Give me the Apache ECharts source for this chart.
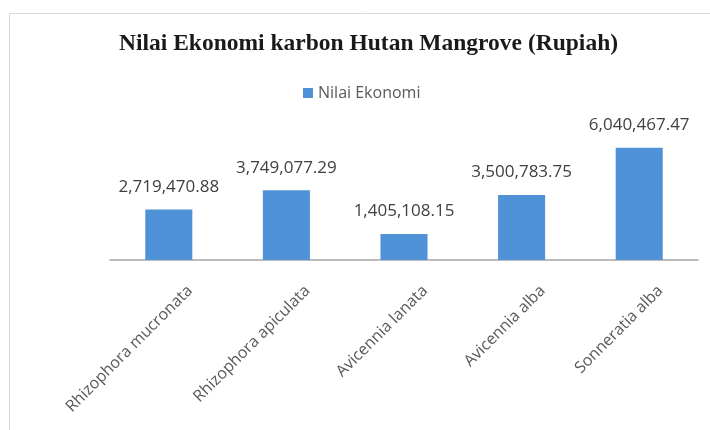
<!DOCTYPE html>
<html><head><meta charset="utf-8">
<script src="https://cdn.jsdelivr.net/npm/echarts@6/dist/echarts.min.js"></script>
<style>html,body{margin:0;padding:0;background:#fff}#c{width:710px;height:430px}</style>
</head><body><div id="c"></div>
<script>
const categories = ["Rhizophora mucronata","Rhizophora apiculata","Avicennia lanata","Avicennia alba","Sonneratia alba"];
const values = [2719470.88, 3749077.29, 1405108.15, 3500783.75, 6040467.47];
const seriesName = "Nilai Ekonomi";
const titleText = "Nilai Ekonomi karbon Hutan Mangrove (Rupiah)";

function fmt(v){
  return v.toLocaleString('en-US',{minimumFractionDigits:2,maximumFractionDigits:2});
}
const chart = echarts.init(document.getElementById('c'), null, {renderer:'canvas'});
chart.setOption({
  animation:false,
  backgroundColor:'#fff',
  graphic:[{type:'rect',shape:{x:9.5,y:13.5,width:720,height:430},style:{fill:'none',stroke:'#d9d9d9',lineWidth:1},silent:true,z:-1}],
  title:{text:titleText,left:114,top:27,textStyle:{fontFamily:'Liberation Serif',fontWeight:'bold',fontSize:23.5,color:'#1a1a1a'}},
  legend:{data:[seriesName],top:80,left:298,itemWidth:10,itemHeight:10,itemGap:8,icon:'rect',
    textStyle:{fontFamily:'Open Sans',fontSize:16,color:'#595959'}},
  grid:{left:110,right:12,top:130,bottom:170},
  xAxis:{type:'category',data:categories,
    axisLine:{lineStyle:{color:'#a6a6a6',width:1.5}},axisTick:{show:false},
    axisLabel:{rotate:45,interval:0,margin:7,verticalAlign:'top',padding:[22,0,0,0],
      fontFamily:'Open Sans',fontSize:16,color:'#595959'}},
  yAxis:{type:'value',min:0,max:7000000,show:false,splitLine:{show:false}},
  series:[{name:seriesName,type:'bar',data:values,barWidth:'40%',
    itemStyle:{color:'#4f92d8'},
    label:{show:true,position:'top',distance:14,formatter:p=>fmt(p.value),
      fontFamily:'Open Sans',fontSize:17,color:'#404040'}}]
});
</script></body></html>
